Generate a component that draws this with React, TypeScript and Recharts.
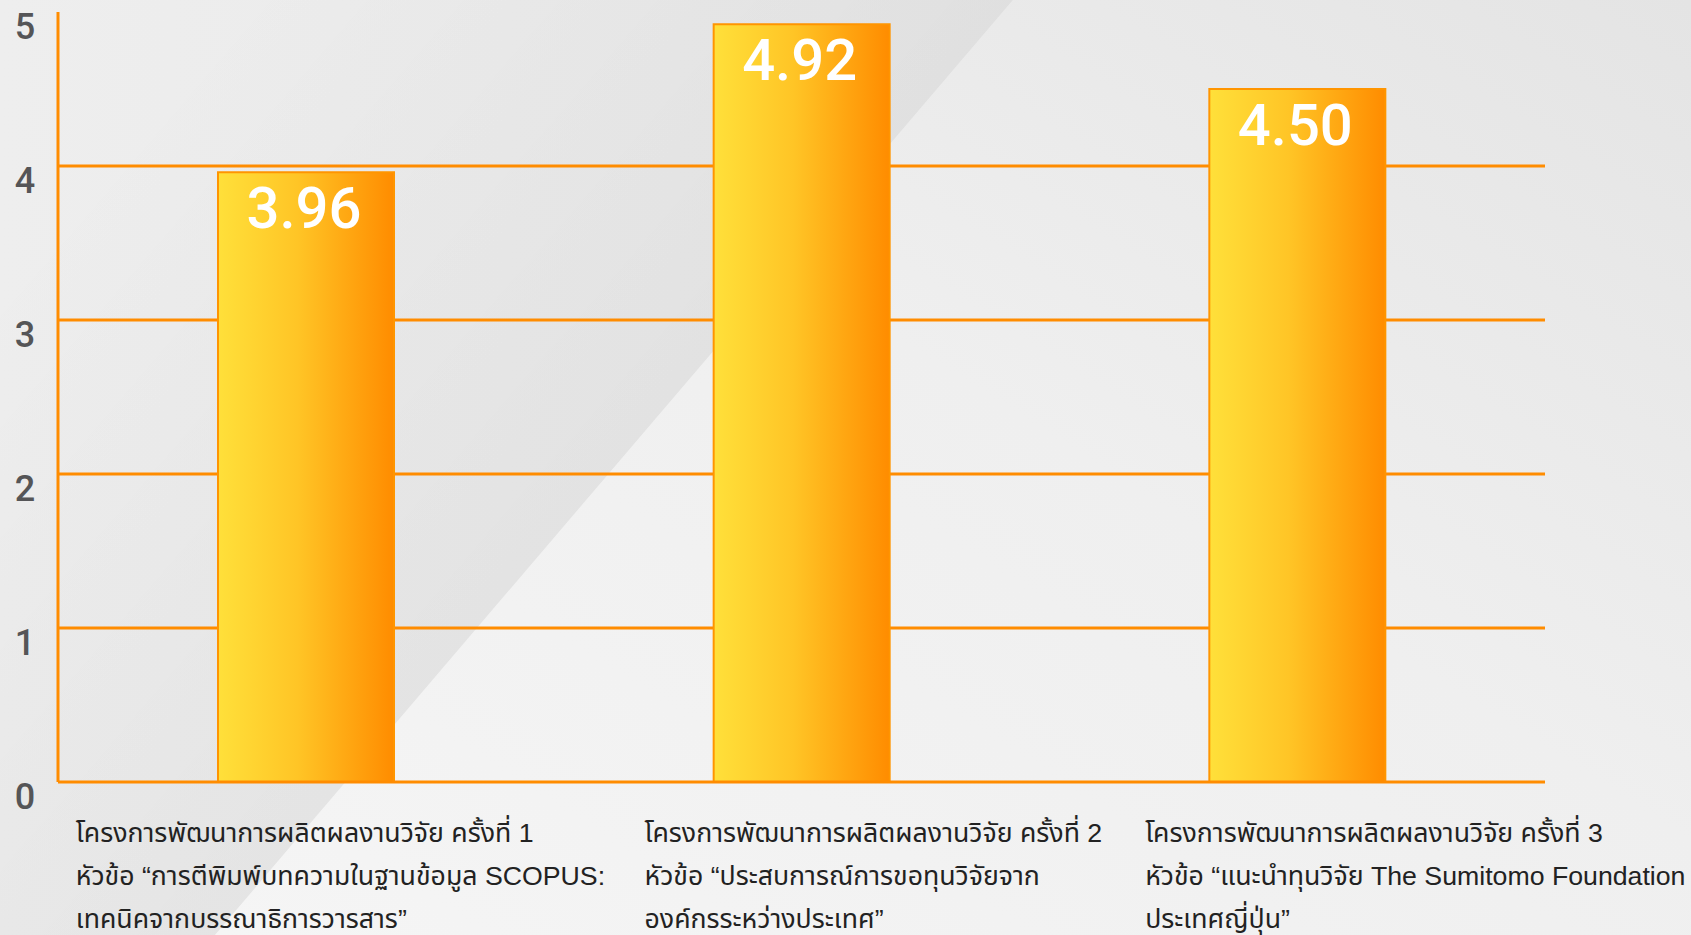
import React from 'react';
import { BarChart, Bar, XAxis, YAxis, CartesianGrid, LabelList } from 'recharts';

const categories = ['ครั้งที่ 1', 'ครั้งที่ 2', 'ครั้งที่ 3'];
const scores = [3.96, 4.92, 4.5];
const labelLines = [
    ['โครงการพัฒนาการผลิตผลงานวิจัย ครั้งที่ 1', 'หัวข้อ “การตีพิมพ์บทความในฐานข้อมูล SCOPUS:', 'เทคนิคจากบรรณาธิการวารสาร”'],
    ['โครงการพัฒนาการผลิตผลงานวิจัย ครั้งที่ 2', 'หัวข้อ “ประสบการณ์การขอทุนวิจัยจาก', 'องค์กรระหว่างประเทศ”'],
    ['โครงการพัฒนาการผลิตผลงานวิจัย ครั้งที่ 3', 'หัวข้อ “แนะนำทุนวิจัย The Sumitomo Foundation', 'ประเทศญี่ปุ่น”'],
];
const yTicks = [0, 1, 2, 3, 4, 5];
const gridValues = [1, 2, 3, 4];

const data = categories.map((name, i) => ({ name, score: scores[i], idx: i }));

const W = 1691;
const H = 935;
const ORANGE = '#FF8C00';
// left shift of each category label, relative to its tick
const labelShift = [-230, -157, -152];

const YTick = (props: any) => {
    const { y, payload } = props;
    return (
        <text x={25} y={y} dy={27} textAnchor="middle" fontSize={36} fontWeight={500}
            fontFamily="Roboto, 'Liberation Sans', sans-serif" fill="#555557">
            {payload.value}
        </text>
    );
};

const XTick = (props: any) => {
    const { x, y, index } = props;
    const lines = labelLines[index] || [];
    return (
        <text x={x + labelShift[index]} y={y} textAnchor="start" fontSize={26.7}
            fontFamily="'Liberation Sans', 'Noto Sans Thai', 'Noto Sans', sans-serif" fill="#222">
            {lines.map((l, i) => (
                <tspan key={i} x={x + labelShift[index]} dy={i === 0 ? 52 : 43}>{l}</tspan>
            ))}
        </text>
    );
};

const ValueLabel = (props: any) => {
    const { x, y, width, value } = props;
    return (
        <text x={x + width / 2 - 2} y={y + 56} textAnchor="middle" fontSize={58} fontWeight={500}
            fontFamily="Roboto, 'Liberation Sans', sans-serif" fill="#fff">
            {Number(value).toFixed(2)}
        </text>
    );
};

const Background = () => (
    <svg width={W} height={H} style={{ position: 'absolute', left: 0, top: 0 }}>
        <defs>
            <linearGradient id="bgBase" x1="0" y1="0" x2="1" y2="0">
                <stop offset="0%" stopColor="#eeeeee" />
                <stop offset="50%" stopColor="#e9e9e9" />
                <stop offset="100%" stopColor="#e1e1e1" />
            </linearGradient>
            <linearGradient id="bgDark" gradientUnits="userSpaceOnUse" x1="158" y1="77" x2="614" y2="467">
                <stop offset="0%" stopColor="#000" stopOpacity={0} />
                <stop offset="100%" stopColor="#000" stopOpacity={0.035} />
            </linearGradient>
            <linearGradient id="bgLight" x1="0" y1="1" x2="1" y2="0">
                <stop offset="0%" stopColor="#f5f5f5" />
                <stop offset="55%" stopColor="#efefef" />
                <stop offset="100%" stopColor="#e4e4e4" />
            </linearGradient>
        </defs>
        <rect width={W} height={H} fill="url(#bgBase)" />
        <polygon points="0,0 1013,0 215,935 0,935" fill="url(#bgDark)" />
        <polygon points="1013,0 1691,0 1691,935 215,935" fill="url(#bgLight)" />
    </svg>
);

export default function App() {
    return (
        <div style={{ position: 'absolute', left: 0, top: 0, width: W, height: H, overflow: 'hidden' }}>
            <Background />
            <div style={{ position: 'absolute', left: 0, top: 0 }}>
                <BarChart width={W} height={H} data={data} margin={{ top: 12, right: 146, bottom: 0, left: 0 }}>
                    <defs>
                        <linearGradient id="barGrad" x1="0" y1="0" x2="1" y2="0">
                            <stop offset="0%" stopColor="#FFE03A" />
                            <stop offset="45%" stopColor="#FFC526" />
                            <stop offset="100%" stopColor="#FF8C00" />
                        </linearGradient>
                    </defs>
                    <CartesianGrid vertical={false} horizontalValues={gridValues} stroke={ORANGE} strokeWidth={3} />
                    <XAxis dataKey="name" height={153} axisLine={{ stroke: ORANGE, strokeWidth: 3 }}
                        tickLine={false} tick={<XTick />} interval={0} />
                    <YAxis width={58} domain={[0, 5]} ticks={yTicks} interval={0}
                        axisLine={{ stroke: ORANGE, strokeWidth: 3 }} tickLine={false} tick={<YTick />} />
                    <Bar dataKey="score" barSize={176} fill="url(#barGrad)" stroke="#FF9500" strokeWidth={2}
                        isAnimationActive={false}>
                        <LabelList dataKey="score" content={<ValueLabel />} />
                    </Bar>
                </BarChart>
            </div>
        </div>
    );
}
